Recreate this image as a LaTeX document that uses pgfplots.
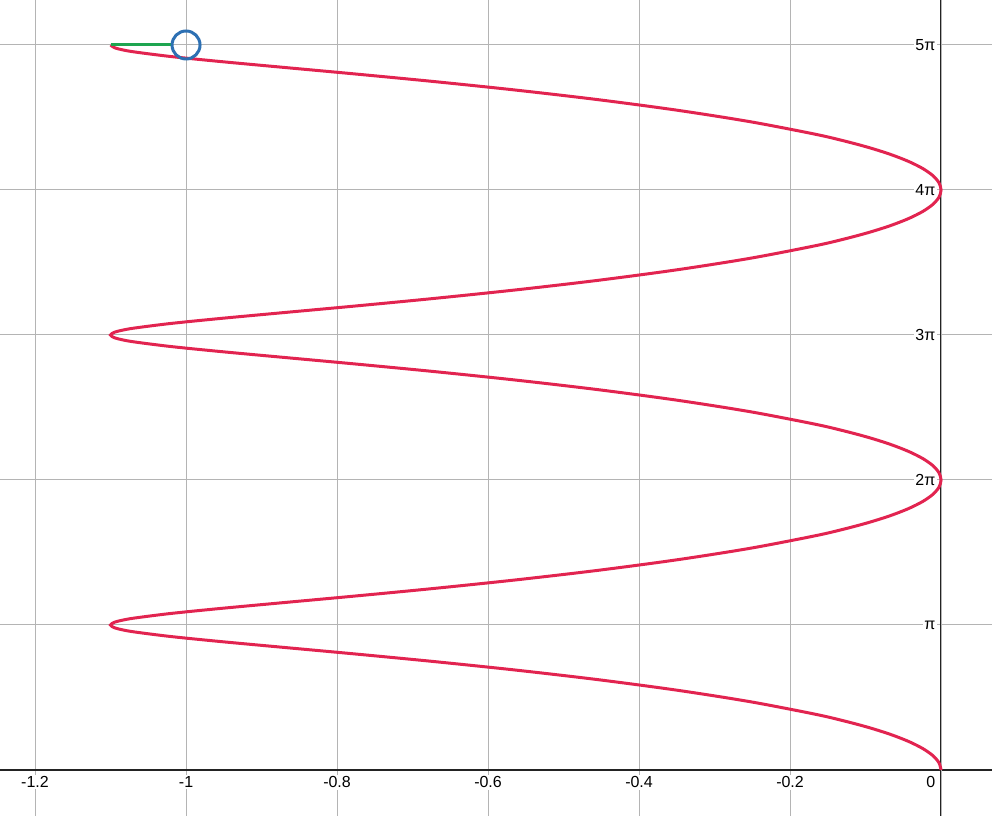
\documentclass[border=0pt]{standalone}
\usepackage{pgfplots}
\pgfplotsset{compat=1.18}
\usepackage{fontspec}
\setmainfont{Liberation Sans}
\definecolor{curvered}{RGB}{226,36,80}
\definecolor{dblue}{RGB}{45,112,179}
\definecolor{dgreen}{RGB}{30,165,80}
\definecolor{gridgray}{RGB}{180,180,180}
\definecolor{axisdark}{RGB}{35,35,35}
\begin{document}
\begin{tikzpicture}
\begin{axis}[
  scale only axis,
  width=992bp, height=816bp,
  xmin=-1.2464, xmax=0.0675,
  ymin=-0.9967, ymax=16.683,
  axis lines=middle,
  axis line style={-, line width=1.8bp, color=axisdark},
  hide obscured x ticks=false,
  hide obscured y ticks=false,
  major tick length=0pt,
  grid=major,
  major grid style={line width=1bp, color=gridgray},
  xtick={-1.2,-1,-0.8,-0.6,-0.4,-0.2},
  xticklabels={-1.2,-1,-0.8,-0.6,-0.4,-0.2},
  extra x ticks={0},
  extra x tick labels={0},
  extra x tick style={xticklabel style={anchor=north east, xshift=-4bp}},
  ytick={3.14159,6.28319,9.42478,12.56637,15.70796},
  yticklabels={π,2π,3π,4π,5π},
  tick label style={font=\fontsize{16bp}{18bp}\selectfont, fill=white, inner sep=1.5bp},
  xticklabel style={yshift=-5bp},
  yticklabel style={xshift=-4bp},
  clip=true,
]
\addplot[curvered, line width=3bp, smooth, tension=0.5] coordinates {
(0,0) (-0.00275,0.15690) (-0.01096,0.31324) (-0.02457,0.46845) (-0.04342,0.62197)
(-0.06733,0.77327) (-0.09606,0.92185) (-0.12934,1.06720)
(-0.16681,1.20890) (-0.25284,1.47964) (-0.35070,1.73126) (-0.45652,1.96171)
(-0.56606,2.16975) (-0.67496,2.35509) (-0.77888,2.51830) (-0.87368,2.66085)
(-0.95557,2.78501) (-1.02129,2.89384) (-1.06822,2.99094) (-1.08403,3.03637)
(-1.09449,3.08044) (-1.1,3.14159)
(-1.09449,3.20275) (-1.08403,3.24682) (-1.06822,3.29225) (-1.02129,3.38935)
(-0.95557,3.49818) (-0.87368,3.62234) (-0.77888,3.76489) (-0.67496,3.92810)
(-0.56606,4.11344) (-0.45652,4.32148) (-0.35070,4.55193) (-0.25284,4.80355)
(-0.16681,5.07429) (-0.12934,5.21599) (-0.09606,5.36134) (-0.06733,5.50992)
(-0.04342,5.66122) (-0.02457,5.81474) (-0.01096,5.96995)
(-0.00275,6.12629) (0,6.28319)
(-0.00275,6.44009) (-0.01096,6.59643) (-0.02457,6.75164) (-0.04342,6.90516)
(-0.06733,7.05646) (-0.09606,7.20504) (-0.12934,7.35039)
(-0.16681,7.49209) (-0.25284,7.76283) (-0.35070,8.01445) (-0.45652,8.24490)
(-0.56606,8.45294) (-0.67496,8.63828) (-0.77888,8.80149) (-0.87368,8.94404)
(-0.95557,9.06820) (-1.02129,9.17703) (-1.06822,9.27413) (-1.08403,9.31956)
(-1.09449,9.36363) (-1.1,9.42478)
(-1.09449,9.48594) (-1.08403,9.53001) (-1.06822,9.57544) (-1.02129,9.67254)
(-0.95557,9.78137) (-0.87368,9.90553) (-0.77888,10.04808) (-0.67496,10.21129)
(-0.56606,10.39663) (-0.45652,10.60467) (-0.35070,10.83512) (-0.25284,11.08674)
(-0.16681,11.35748) (-0.12934,11.49918) (-0.09606,11.64453) (-0.06733,11.79311)
(-0.04342,11.94441) (-0.02457,12.09793) (-0.01096,12.25314)
(-0.00275,12.40948) (0,12.56637)
(-0.00275,12.72327) (-0.01096,12.87961) (-0.02457,13.03482) (-0.04342,13.18834)
(-0.06733,13.33964) (-0.09606,13.48822) (-0.12934,13.63357)
(-0.16681,13.77527) (-0.25284,14.04601) (-0.35070,14.29763) (-0.45652,14.52808)
(-0.56606,14.73612) (-0.67496,14.92146) (-0.77888,15.08467) (-0.87368,15.22722)
(-0.95557,15.35138) (-1.02129,15.46021) (-1.06822,15.55731) (-1.08403,15.60274)
(-1.09449,15.64681) (-1.1,15.70796)
};
\addplot[dgreen, line width=3bp] coordinates {(-1.1,15.70796) (-1.0185,15.70796)};
\addplot[only marks, mark=o, mark size=14bp, mark options={line width=3bp, draw=dblue, fill=none}] coordinates {(-1,15.70796)};
\end{axis}
\pgfresetboundingbox
\path (current axis.south west) rectangle (current axis.north east);
\end{tikzpicture}
\end{document}
